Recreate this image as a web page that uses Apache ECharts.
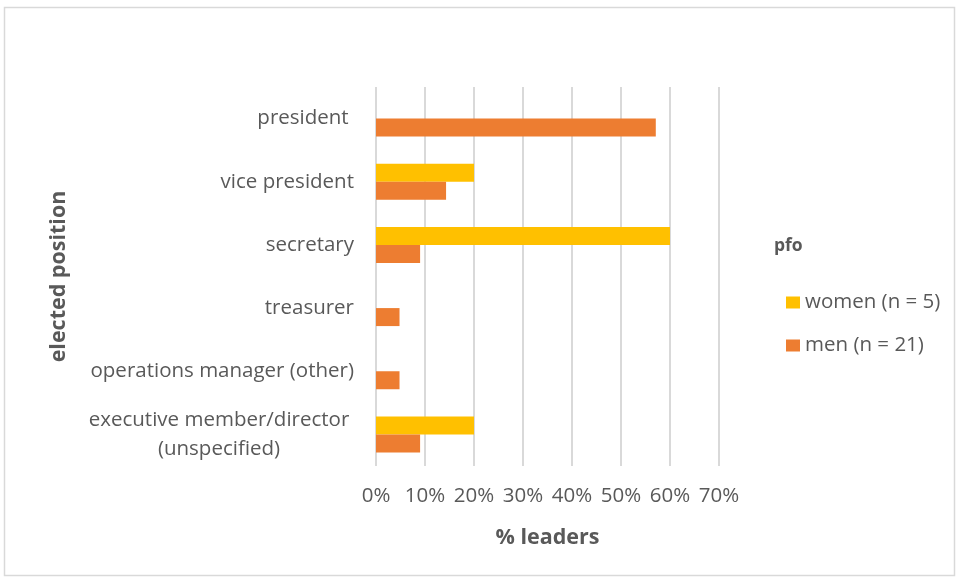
<!DOCTYPE html>
<html>
<head>
<meta charset="utf-8">
<script src="https://cdn.jsdelivr.net/npm/echarts@6/dist/echarts.min.js"></script>
<style>
  html, body { margin: 0; padding: 0; background: #ffffff; }
  #chart { width: 959px; height: 579px; }
</style>
</head>
<body>
<div id="chart"></div>
<script>
// Elected positions held by women and men leaders (% of each group)
const positions = [
  'president ',
  'vice president',
  'secretary',
  'treasurer',
  'operations manager (other)',
  'executive member/director\n(unspecified)'
];
const womenPct = [0, 20, 60, 0, 0, 20];
const menPct = [57.1, 14.3, 9, 4.8, 4.8, 9];
const xTicks = [0, 10, 20, 30, 40, 50, 60, 70];

const FONT = '"Open Sans", "Noto Sans", sans-serif';
const GREY = '#595959';
const LABEL_SIZE = 20.5;

const chart = echarts.init(document.getElementById('chart'), null, { renderer: 'canvas' });

chart.setOption({
  animation: false,
  backgroundColor: '#ffffff',
  textStyle: { fontFamily: FONT },
  graphic: [
    {
      type: 'rect',
      shape: { x: 4.5, y: 7.5, width: 950, height: 568 },
      style: { fill: 'none', stroke: '#d9d9d9', lineWidth: 1.5 },
      silent: true
    },
    {
      type: 'text',
      left: 774, top: 237,
      style: { text: 'pfo', fill: GREY, font: 'bold 17.5px ' + FONT }
    }
  ],
  legend: {
    orient: 'vertical',
    left: 781,
    top: 287,
    itemWidth: 14,
    itemHeight: 12,
    itemGap: 22,
    icon: 'rect',
    data: ['women (n = 5)', 'men (n = 21)'],
    textStyle: { color: GREY, fontSize: LABEL_SIZE, fontFamily: FONT }
  },
  grid: { left: 376, right: 240, top: 87, bottom: 113, containLabel: false },
  xAxis: {
    type: 'value',
    min: xTicks[0],
    max: xTicks[xTicks.length - 1],
    interval: 10,
    name: '% leaders',
    nameLocation: 'middle',
    nameGap: 61,
    nameTextStyle: { color: GREY, fontSize: 21.5, fontWeight: 'bold', fontFamily: FONT },
    axisLine: { show: false },
    axisTick: { show: false },
    axisLabel: { color: GREY, fontSize: LABEL_SIZE, margin: 20, formatter: v => v + '%' },
    splitLine: { show: true, lineStyle: { color: '#d9d9d9', width: 2 } }
  },
  yAxis: {
    type: 'category',
    inverse: true,
    data: positions,
    name: 'elected position',
    nameLocation: 'middle',
    nameRotate: 90,
    nameGap: 306,
    nameTextStyle: { color: GREY, fontSize: 21.5, fontWeight: 'bold', fontFamily: FONT },
    axisLine: { show: false },
    axisTick: { show: false },
    axisLabel: {
      color: GREY,
      fontSize: LABEL_SIZE,
      margin: 22,
      lineHeight: 29,
      formatter: function (v) {
        if (v.indexOf('\n') >= 0) {
          return v.split('\n').map(s => '{c|' + s + '}').join('\n');
        }
        return v;
      },
      rich: {
        c: { width: 270, align: 'center', color: GREY, fontSize: LABEL_SIZE, lineHeight: 29, fontFamily: FONT }
      }
    }
  },
  series: [
    {
      name: 'women (n = 5)',
      type: 'bar',
      data: womenPct,
      barWidth: 18,
      barGap: '0%',
      itemStyle: { color: '#ffc000' }
    },
    {
      name: 'men (n = 21)',
      type: 'bar',
      data: menPct,
      barWidth: 18,
      barGap: '0%',
      itemStyle: { color: '#ed7d31' }
    }
  ]
});
</script>
</body>
</html>
